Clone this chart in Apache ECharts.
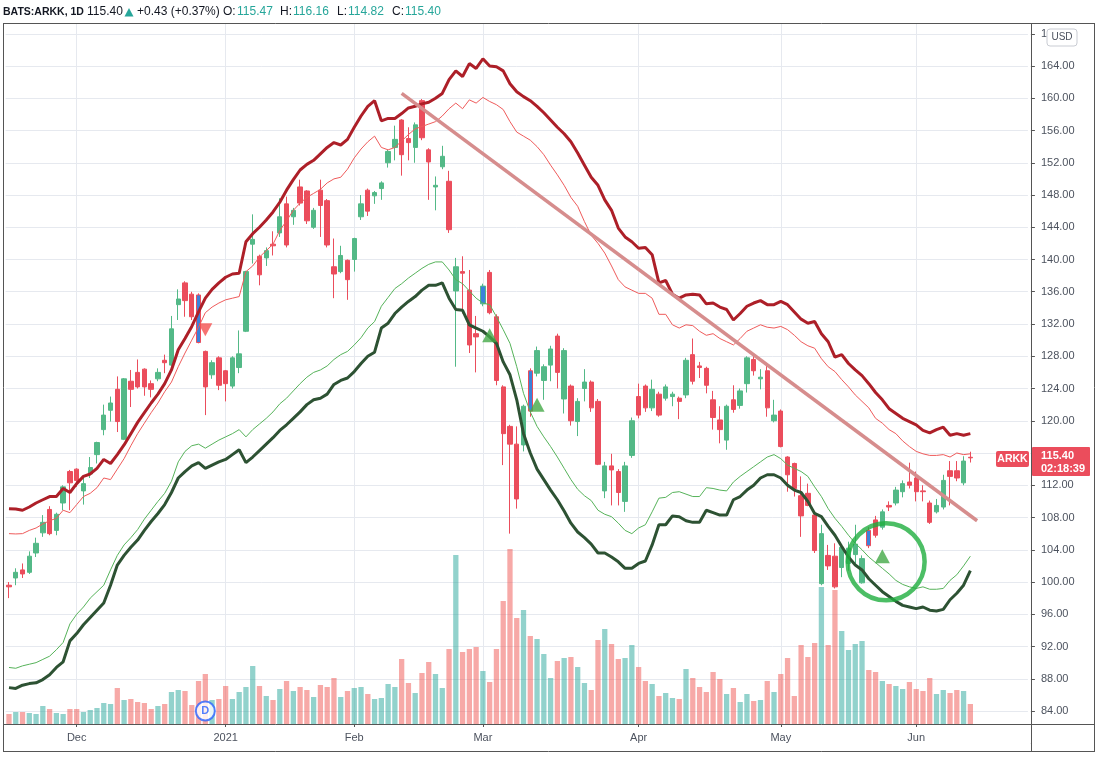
<!DOCTYPE html>
<html><head><meta charset="utf-8">
<script src="https://cdn.jsdelivr.net/npm/echarts@6/dist/echarts.min.js"></script>
<style>html,body{margin:0;padding:0;background:#fff;}#chart{width:1102px;height:762px;}</style>
</head><body><div id="chart"></div>
<script>
// ---------- DATA ----------
const dates = [
'2020-11-16','2020-11-17','2020-11-18','2020-11-19','2020-11-20','2020-11-23','2020-11-24','2020-11-25','2020-11-27','2020-11-30',
'2020-12-01','2020-12-02','2020-12-03','2020-12-04','2020-12-07','2020-12-08','2020-12-09','2020-12-10','2020-12-11','2020-12-14','2020-12-15','2020-12-16','2020-12-17','2020-12-18','2020-12-21','2020-12-22','2020-12-23','2020-12-24','2020-12-28','2020-12-29','2020-12-30','2020-12-31',
'2021-01-04','2021-01-05','2021-01-06','2021-01-07','2021-01-08','2021-01-11','2021-01-12','2021-01-13','2021-01-14','2021-01-15','2021-01-19','2021-01-20','2021-01-21','2021-01-22','2021-01-25','2021-01-26','2021-01-27','2021-01-28','2021-01-29',
'2021-02-01','2021-02-02','2021-02-03','2021-02-04','2021-02-05','2021-02-08','2021-02-09','2021-02-10','2021-02-11','2021-02-12','2021-02-16','2021-02-17','2021-02-18','2021-02-19','2021-02-22','2021-02-23','2021-02-24','2021-02-25','2021-02-26',
'2021-03-01','2021-03-02','2021-03-03','2021-03-04','2021-03-05','2021-03-08','2021-03-09','2021-03-10','2021-03-11','2021-03-12','2021-03-15','2021-03-16','2021-03-17','2021-03-18','2021-03-19','2021-03-22','2021-03-23','2021-03-24','2021-03-25','2021-03-26','2021-03-29','2021-03-30','2021-03-31',
'2021-04-01','2021-04-05','2021-04-06','2021-04-07','2021-04-08','2021-04-09','2021-04-12','2021-04-13','2021-04-14','2021-04-15','2021-04-16','2021-04-19','2021-04-20','2021-04-21','2021-04-22','2021-04-23','2021-04-26','2021-04-27','2021-04-28','2021-04-29','2021-04-30',
'2021-05-03','2021-05-04','2021-05-05','2021-05-06','2021-05-07','2021-05-10','2021-05-11','2021-05-12','2021-05-13','2021-05-14','2021-05-17','2021-05-18','2021-05-19','2021-05-20','2021-05-21','2021-05-24','2021-05-25','2021-05-26','2021-05-27','2021-05-28',
'2021-06-01','2021-06-02','2021-06-03','2021-06-04','2021-06-07','2021-06-08','2021-06-09','2021-06-10','2021-06-11',
'2021-06-14','2021-06-15','2021-06-16','2021-06-17','2021-06-18','2021-06-21','2021-06-22','2021-06-23'
];
const opens = [
99.6,100.5,101.5,101.2,103.6,106.1,109.0,106.4,109.8,113.7,
114.0,111.3,113.4,115.8,118.9,121.3,123.9,117.7,124.9,126.0,
126.4,124.6,125.2,127.5,126.9,134.4,137.1,135.7,135.6,128.6,
125.7,127.8,126.2,124.3,126.6,131.1,141.9,140.4,140.2,141.9,
143.3,146.9,145.3,149.0,148.5,144.0,148.6,147.3,139.1,138.5,
139.9,140.0,145.3,148.6,147.9,148.8,152.0,153.9,157.3,155.0,
153.9,159.7,153.6,149.0,151.5,149.7,136.1,138.5,136.2,130.8,
134.5,138.4,132.9,124.2,119.3,117.1,117.0,126.2,125.9,125.0,
126.9,130.5,122.7,124.3,119.9,124.0,124.8,122.4,111.3,114.4,
113.7,110.0,115.7,123.0,124.3,121.6,123.3,122.8,123.0,122.8,
123.2,128.2,126.8,126.5,122.6,120.1,117.6,122.6,121.9,124.6,
127.6,125.2,126.2,120.0,121.2,115.5,114.7,110.7,111.0,108.3,
99.8,103.3,103.2,101.8,102.3,103.4,99.9,106.4,107.7,106.8,
109.5,109.8,111.2,112.4,112.9,111.3,109.8,108.7,109.3,113.8,
113.8,112.3,115.47];
const closes = [
99.4,101.2,101.0,103.2,104.8,107.4,106.0,108.4,111.8,112.3,
112.6,112.2,114.2,117.3,120.7,122.2,119.9,125.2,123.9,124.2,
124.2,123.9,126.0,127.2,131.4,135.1,134.9,132.9,129.7,124.2,
127.2,124.4,124.6,127.8,128.3,138.5,142.5,138.1,141.1,141.7,
145.3,141.8,146.1,147.0,144.8,146.1,146.7,141.8,138.2,140.5,
137.5,142.6,146.9,146.0,148.3,149.5,153.4,154.9,153.0,154.5,
156.7,155.1,152.1,149.2,152.8,143.7,139.1,138.3,129.4,130.4,
136.7,133.4,125.0,118.4,117.1,110.3,121.8,121.2,128.7,126.7,
128.9,126.0,128.7,120.0,122.4,124.8,121.6,114.6,114.4,113.9,
111.1,114.4,120.0,120.7,121.6,123.9,120.7,124.2,123.3,122.4,
127.5,124.9,126.6,124.4,120.4,118.9,121.8,121.4,123.7,127.8,
126.2,125.4,121.6,120.7,116.8,113.3,111.6,108.2,109.5,103.9,
106.0,102.0,99.4,104.3,104.2,104.7,102.9,104.5,105.8,108.7,
109.3,111.4,112.2,112.0,111.2,111.2,107.4,109.5,112.6,113.1,
112.9,115.0,115.40];
const lows = [
98.0,99.6,100.5,101.0,103.1,105.6,105.8,105.8,108.9,108.9,
111.8,109.6,112.9,114.7,118.2,119.9,118.6,117.6,121.7,124.0,
123.1,122.9,124.9,125.9,126.8,132.5,132.9,132.5,129.6,120.7,
125.2,123.8,122.4,124.0,125.9,131.0,139.5,136.8,139.2,140.5,
142.8,141.5,144.3,146.7,144.4,143.8,142.8,141.5,135.2,138.3,
135.0,138.5,144.9,145.4,146.9,147.4,151.4,152.3,150.4,152.3,
152.0,154.8,147.4,146.1,151.2,143.3,126.7,133.3,128.4,126.0,
134.2,133.2,124.4,114.5,106.0,109.1,116.2,120.5,125.5,122.6,
124.9,124.0,120.9,119.4,118.1,122.4,121.1,114.5,110.4,109.5,
109.5,108.7,115.4,120.3,121.1,121.2,120.5,122.5,121.8,120.2,
122.8,124.5,125.3,123.4,118.9,117.2,116.4,121.0,121.5,123.5,
125.6,123.9,120.5,119.8,116.7,111.2,110.6,105.6,109.4,103.6,
99.6,101.5,99.2,100.6,101.4,102.3,99.8,104.2,105.5,106.5,
108.8,109.5,110.5,111.6,110.0,110.0,107.2,108.5,109.0,109.5,
112.5,112.0,114.82];
const highs = [
100.0,101.7,102.3,103.8,105.5,108.3,109.4,108.6,112.0,113.9,
114.1,112.9,115.5,117.4,122.0,123.0,125.5,125.3,126.3,127.6,
126.5,125.0,126.5,128.2,133.0,136.3,137.3,136.0,135.8,128.7,
127.5,128.0,126.3,128.0,131.2,138.6,145.6,140.6,141.5,143.5,
147.6,147.8,146.4,149.9,148.6,146.4,149.9,147.5,142.6,141.7,
140.0,142.7,148.0,148.8,148.5,149.7,153.6,156.6,157.4,156.4,
157.0,159.9,153.8,150.3,154.1,151.0,140.2,140.4,138.7,133.0,
137.0,138.7,133.2,124.4,119.5,119.3,122.0,126.5,129.2,127.0,
129.3,130.8,129.0,124.5,122.8,126.4,125.0,122.7,114.9,115.9,
114.0,114.9,120.4,124.6,124.5,125.1,123.6,124.5,123.6,123.0,
127.8,130.2,127.3,126.7,123.7,121.8,122.0,124.4,124.0,128.0,
128.1,126.4,126.9,122.6,121.4,115.6,114.8,113.1,112.2,108.5,
107.1,104.6,104.8,104.6,105.0,107.1,103.3,106.8,108.2,109.0,
110.0,111.8,112.6,114.8,113.7,112.0,110.1,110.3,113.3,115.0,
115.0,115.6,116.16];
// volume, millions of shares (estimated)
const volumes = [
1.0,1.2,1.2,1.1,1.0,1.8,1.5,1.1,1.0,1.5,
1.5,1.2,1.4,1.6,2.1,2.0,3.6,2.4,2.5,2.2,
2.1,1.5,1.8,2.0,3.2,3.4,3.3,1.9,4.3,5.0,
2.4,2.5,3.8,2.5,3.2,3.7,5.8,3.8,2.8,2.4,
3.5,4.3,3.3,3.7,3.4,2.7,3.9,3.7,4.6,2.7,
3.3,3.6,3.7,3.0,2.5,2.6,4.0,3.7,6.5,4.1,
3.1,5.1,6.2,5.0,3.6,7.5,16.9,7.2,7.5,7.7,
5.3,4.2,7.5,12.3,17.5,10.6,11.4,8.8,8.5,7.0,
4.6,6.3,6.6,6.7,5.7,4.1,3.4,8.4,9.5,8.0,
6.5,6.6,7.9,5.7,4.3,4.0,2.8,3.1,2.6,2.5,
5.5,4.6,3.7,3.2,5.2,4.5,3.0,3.6,2.2,3.0,
2.3,2.4,4.3,3.2,5.0,6.6,2.8,7.9,6.7,8.1,
13.7,7.9,13.4,9.3,7.4,8.0,8.3,5.4,5.2,4.3,
4.0,3.8,3.5,4.2,3.5,3.3,4.6,3.0,3.4,3.1,
3.4,3.3,2.0];
// band lines
const upperBand = [
109.1,109.05,108.9,109.3,109.8,110.2,110.6,110.6,111.6,111.1,
112.2,113.1,113.4,114.1,115.2,114.7,115.8,117.0,118.4,119.8,
121.0,122.2,123.3,124.6,126.3,128.8,130.2,131.7,133.5,135.2,
136.3,137.1,137.8,138.2,138.3,142.2,143.2,144.0,144.9,145.9,
147.1,148.6,149.9,151.1,151.8,152.3,153.1,153.9,154.5,154.2,
154.9,156.4,157.8,159.0,159.7,157.2,157.5,157.5,158.1,158.8,
159.0,159.3,159.5,160.0,160.6,162.3,163.4,162.7,164.3,163.7,
164.9,164.0,163.9,163.4,161.8,160.8,160.2,159.7,159.0,158.2,
157.3,156.4,155.6,154.6,153.2,151.7,150.2,149.2,147.4,146.1,
143.9,142.8,142.2,141.4,141.5,140.6,137.1,137.4,135.7,135.2,
135.6,135.7,135.6,134.5,134.6,134.1,133.8,132.5,133.3,134.2,
134.6,134.9,134.4,134.4,134.8,134.4,133.5,132.6,132.1,132.3,
130.8,129.8,127.9,128.2,127.1,126.3,125.6,124.6,123.5,122.6,
121.5,120.9,120.3,119.9,119.5,118.8,118.5,118.9,119.2,118.2,
118.4,118.2,118.4];
const upperInner = [
106.0,105.96,106.0,106.4,106.7,107.2,107.6,107.9,108.9,108.6,
109.6,110.6,111.0,111.7,112.9,112.7,114.0,115.3,116.9,118.4,
119.7,121.0,122.2,123.6,124.8,126.7,128.4,130.0,131.6,133.4,
134.1,134.6,135.0,135.2,135.4,138.5,139.2,140.3,141.1,141.9,
143.6,144.8,146.1,147.0,147.7,148.2,148.7,149.5,150.0,150.2,
151.2,152.6,153.7,154.6,155.3,153.9,153.6,153.9,154.7,155.5,
156.2,156.5,156.8,157.1,157.8,158.7,159.4,158.7,159.8,159.4,
160.1,159.6,159.2,158.6,157.1,155.8,155.3,154.8,154.0,153.0,
151.7,150.5,149.2,147.7,146.6,144.7,143.0,142.0,140.8,139.2,
137.5,136.6,136.2,135.8,135.8,135.2,133.2,133.2,131.9,131.5,
131.9,131.8,131.1,130.6,130.8,130.2,129.8,129.4,130.2,131.1,
131.5,131.9,131.6,131.5,131.7,131.3,130.6,129.8,129.3,129.0,
127.7,126.7,126.1,125.1,124.2,123.2,122.4,121.6,120.3,119.7,
118.9,118.4,117.5,116.8,116.2,115.9,115.7,115.7,115.8,115.5,
116.0,115.8,115.9];
const lowerInner = [
89.4,89.3,89.6,89.8,90.0,90.4,90.8,91.6,92.5,94.8,
96.0,96.9,98.0,98.8,99.6,101.5,103.3,104.6,105.5,106.5,
107.8,108.9,110.0,111.0,112.5,114.9,116.2,116.9,117.1,116.6,
117.1,117.6,118.0,118.4,118.9,118.0,118.9,119.6,120.3,121.1,
122.1,122.8,123.7,124.6,125.4,126.0,126.3,126.8,127.6,128.2,
128.6,129.4,130.3,131.5,132.3,134.2,135.3,136.4,137.0,137.7,
138.3,138.9,139.4,139.7,139.7,138.7,137.5,137.0,136.1,135.2,
134.6,134.4,132.9,131.3,129.6,126.7,123.4,121.1,119.3,118.0,
116.8,115.5,114.1,112.7,111.5,110.7,110.1,108.9,108.4,108.1,
107.3,106.4,106.0,106.7,107.1,108.7,110.4,110.5,111.1,111.2,
110.9,110.6,110.6,111.7,111.6,111.4,111.3,112.4,113.1,113.7,
114.3,114.9,115.5,115.8,115.3,114.5,114.1,113.7,113.1,111.8,
110.6,109.1,107.9,106.9,105.8,104.8,104.0,103.1,102.4,101.7,
101.0,100.2,99.7,99.4,99.2,99.4,99.1,99.1,99.2,100.2,
100.9,102.0,103.2];
const lowerBand = [
86.9,86.8,87.2,87.4,87.5,87.9,88.5,89.4,90.1,92.7,
93.6,94.7,95.6,96.5,97.4,99.6,102.1,103.3,104.3,105.2,
106.4,107.5,108.5,109.6,111.1,112.9,113.7,114.4,114.8,114.1,
114.5,114.9,115.2,115.8,116.4,114.8,115.5,116.3,117.1,117.9,
118.8,119.5,120.3,121.1,122.0,122.6,122.8,123.3,124.5,125.0,
125.3,126.1,127.1,128.0,128.5,131.5,132.1,133.3,134.1,134.8,
135.4,136.2,136.8,136.8,137.1,135.2,133.8,133.7,131.9,131.5,
131.1,130.4,129.6,127.3,125.7,122.6,118.4,116.0,114.0,112.7,
111.4,110.2,108.8,107.3,106.2,105.5,104.7,103.6,103.6,103.1,
102.5,101.7,101.7,102.3,102.6,104.6,107.1,107.1,108.2,108.1,
107.6,107.4,107.4,108.9,108.6,108.3,108.3,110.2,110.6,111.4,
112.0,112.9,113.3,113.3,112.9,112.0,111.4,111.1,110.0,108.5,
108.1,106.9,105.8,104.4,103.1,102.1,101.5,100.4,99.6,98.8,
98.2,97.6,97.1,96.9,96.7,96.9,96.5,96.4,96.6,97.8,
98.6,99.6,101.4];
const highlightDates = ['2020-12-28','2021-03-01','2021-03-10','2021-05-20'];
const sellSignals = [['2020-12-29', 131.3]];
const buySignals = [['2021-03-02', 130.6], ['2021-03-11', 122.0], ['2021-05-24', 103.2]];
const dividendMarks = [['2020-12-29', 84.0]];
const trendLine = [['2021-02-10', 160.6], ['2021-06-14', 107.6]];
const circleNote = [['2021-05-25', 102.5]];
const priceAxis = { min: 80, max: 172, step: 4 };
const monthNames = ['Jan','Feb','Mar','Apr','May','Jun','Jul','Aug','Sep','Oct','Nov','Dec'];
const header = { symbol: 'BATS:ARKK, 1D', last: '115.40', change: '+0.43 (+0.37%)', o: '115.47', h: '116.16', l: '114.82', c: '115.40' };
const lastLabel = { name: 'ARKK', price: '115.40', countdown: '02:18:39' };

// ---------- STYLE ----------
const UP = '#53b987', DOWN = '#eb4d5c', BLUE = '#3b82db';
const VOL_UP = 'rgba(38,166,154,0.5)', VOL_DOWN = 'rgba(239,83,80,0.5)';
const GRID_C = '#e6e9ef', FRAME = '#555', TXT = '#4c525e', TEAL = '#26a69a';
const FONT = '"Liberation Sans", Arial, sans-serif';

const isMonthStart = i => i > 0 && dates[i].slice(5, 7) !== dates[i - 1].slice(5, 7);
const candleData = opens.map((o, i) => {
  const v = [o, closes[i], lows[i], highs[i]];
  if (highlightDates.includes(dates[i])) {
    const dir = closes[i] >= o ? UP : DOWN;
    return { value: v, itemStyle: { color: BLUE, color0: BLUE, borderColor: dir, borderColor0: dir } };
  }
  return v;
});
const volData = volumes.map((v, i) => ({ value: v, itemStyle: { color: closes[i] >= opens[i] ? VOL_UP : VOL_DOWN } }));
const tickVals = [];
for (let v = priceAxis.min; v <= priceAxis.max; v += priceAxis.step) tickVals.push(v);
const splitColors = tickVals.map(v => (v === priceAxis.min || v === priceAxis.max) ? 'rgba(0,0,0,0)' : GRID_C);

const gLeft = 5.6, gRight = 74.1;
const lineSeries = (data, color, width) => ({
  type: 'line', data: data, xAxisIndex: 0, yAxisIndex: 0, showSymbol: false, symbol: 'none',
  lineStyle: { color: color, width: width }, z: 4, silent: true
});

function hline(x1, y1, x2, y2) {
  return { type: 'line', z: 200, shape: { x1, y1, x2, y2 }, style: { stroke: FRAME, lineWidth: 1 } };
}
function txt(x, y, text, fill, size, weight, align) {
  return { type: 'text', z: 210, style: { x, y, text, fill, font: (weight || 'normal') + ' ' + size + 'px ' + FONT, align: align || 'left', verticalAlign: 'middle' } };
}

const chart = echarts.init(document.getElementById('chart'), null, { renderer: 'canvas' });
chart.setOption({
  animation: false,
  backgroundColor: '#ffffff',
  grid: [
    { left: gLeft, right: gRight, top: 1.5, bottom: 18.75 },
    { left: gLeft, right: gRight, top: 23, bottom: 38 }
  ],
  xAxis: [
    { type: 'category', gridIndex: 0, data: dates, boundaryGap: true, show: false },
    { type: 'category', gridIndex: 1, data: dates, boundaryGap: true,
      axisLine: { show: false },
      axisTick: { show: true, interval: isMonthStart, alignWithLabel: true, length: 3, lineStyle: { color: FRAME } },
      axisLabel: { interval: isMonthStart, margin: 8, color: TXT, fontSize: 11, fontFamily: FONT,
        formatter: v => { const m = +v.slice(5, 7); return m === 1 ? v.slice(0, 4) : monthNames[m - 1]; } },
      splitLine: { show: true, interval: isMonthStart, alignWithLabel: true, lineStyle: { color: GRID_C, width: 1 } }
    }
  ],
  yAxis: [
    { type: 'value', gridIndex: 0, position: 'right', offset: 3, min: priceAxis.min, max: priceAxis.max, interval: priceAxis.step, scale: true,
      axisLine: { show: false },
      axisTick: { show: true, length: 4, lineStyle: { color: FRAME } },
      axisLabel: { color: TXT, fontSize: 11, fontFamily: FONT, margin: 10,
        formatter: v => (v === priceAxis.min || v === priceAxis.max) ? '' : v.toFixed(2) },
      splitLine: { show: true, lineStyle: { color: splitColors, width: 1 } }
    },
    { type: 'value', gridIndex: 1, min: 0, max: 70.1, show: false, splitLine: { show: false } }
  ],
  series: [
    { type: 'bar', xAxisIndex: 1, yAxisIndex: 1, data: volData, barWidth: '78%', z: 1, silent: true },
    { type: 'candlestick', xAxisIndex: 0, yAxisIndex: 0, data: candleData, barWidth: '72%', z: 2,
      itemStyle: { color: UP, color0: DOWN, borderColor: UP, borderColor0: DOWN, borderWidth: 1 } },
    lineSeries(upperBand, '#ad1f28', 3),
    lineSeries(upperInner, '#ef5b5b', 1),
    lineSeries(lowerInner, '#56b35a', 1),
    lineSeries(lowerBand, '#2d5233', 3),
    { type: 'line', data: trendLine, xAxisIndex: 0, yAxisIndex: 0, symbol: 'none', z: 6, silent: true,
      lineStyle: { color: '#d68d8d', width: 3.5 } },
    { type: 'scatter', data: sellSignals, xAxisIndex: 0, yAxisIndex: 0, symbol: 'triangle', symbolRotate: 180, symbolSize: [14, 13], z: 7,
      itemStyle: { color: '#f4504f' } },
    { type: 'scatter', data: buySignals, xAxisIndex: 0, yAxisIndex: 0, symbol: 'triangle', symbolSize: [15, 14], z: 7,
      itemStyle: { color: '#43a947' } },
    { type: 'scatter', data: circleNote, xAxisIndex: 0, yAxisIndex: 0, symbol: 'circle', symbolSize: 77, symbolOffset: [-3, 0], z: 8, silent: true,
      itemStyle: { color: 'rgba(0,0,0,0)', borderColor: '#1fae3f', borderWidth: 4.5 } },
    { type: 'scatter', data: dividendMarks, xAxisIndex: 0, yAxisIndex: 0, symbol: 'circle', symbolSize: 19, z: 9,
      itemStyle: { color: '#ffffff', borderColor: '#2962ff', borderWidth: 2 },
      label: { show: true, position: 'inside', formatter: 'D', color: '#2962ff', fontSize: 11, fontWeight: 'bold', fontFamily: FONT } }
  ],
  graphic: [
    // cover ticks that fall outside the pane
    { type: 'rect', z: 190, shape: { x: 1028, y: 0, width: 16, height: 22 }, style: { fill: '#fff' } },
    { type: 'rect', z: 190, shape: { x: 1032, y: 736, width: 12, height: 14 }, style: { fill: '#fff' } },
    // frame
    hline(3, 23.5, 1094, 23.5), hline(3, 724.5, 1094, 724.5), hline(3, 751.5, 1094, 751.5),
    hline(3.5, 23, 3.5, 752), hline(1031.5, 23, 1031.5, 752), hline(1094.5, 23, 1094.5, 752),
    // header
    txt(3, 12, header.symbol, '#131722', 10.5, 'bold'),
    txt(87, 12, header.last, '#131722', 12),
    { type: 'polygon', z: 210, shape: { points: [[124.5, 16.5], [133.5, 16.5], [129, 8]] }, style: { fill: TEAL } },
    txt(137, 12, header.change, '#131722', 12),
    txt(223, 12, 'O:', '#131722', 12), txt(237, 12, header.o, TEAL, 12),
    txt(280, 12, 'H:', '#131722', 12), txt(293, 12, header.h, TEAL, 12),
    txt(337, 12, 'L:', '#131722', 12), txt(348, 12, header.l, TEAL, 12),
    txt(392, 12, 'C:', '#131722', 12), txt(405, 12, header.c, TEAL, 12),
    // USD button
    { type: 'rect', z: 205, shape: { x: 1047, y: 29, width: 30, height: 17, r: 3 }, style: { fill: '#fff', stroke: '#c9ccd3', lineWidth: 1 } },
    txt(1062, 37.5, 'USD', TXT, 10, 'normal', 'center'),
    // last price labels
    { type: 'rect', z: 205, shape: { x: 996, y: 451, width: 33, height: 16, r: 2 }, style: { fill: DOWN } },
    txt(1012.5, 459, lastLabel.name, '#fff', 10.5, 'bold', 'center'),
    { type: 'rect', z: 205, shape: { x: 1032, y: 447, width: 58, height: 29, r: 1 }, style: { fill: DOWN } },
    txt(1041, 456, lastLabel.price, '#fff', 11, 'bold'),
    txt(1041, 468.5, lastLabel.countdown, '#fff', 11, 'bold')
  ]
});
</script>
</body></html>
